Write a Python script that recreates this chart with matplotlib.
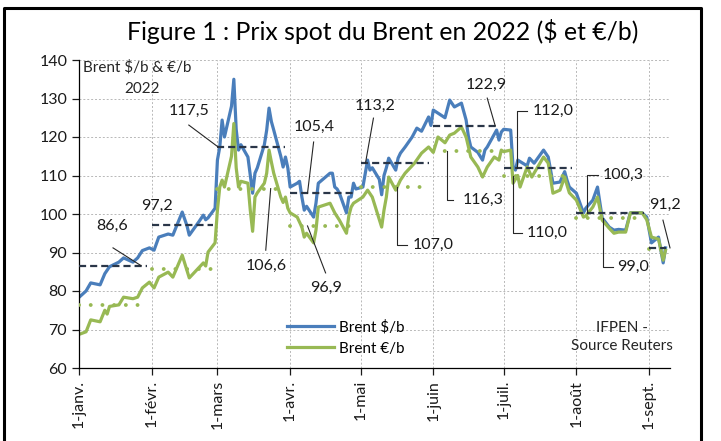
#!/usr/bin/env python
"""Brent spot price in 2022, in dollars and euros per barrel."""

import datetime as dt
import matplotlib.pyplot as plt
import matplotlib.dates as mdates
import matplotlib.lines as mlines


# Data
# ----

# brent in $/b (dates as month-day in 2022, first point end of 2021)
usd_dates = [
    '2021-12-31', '01-04', '01-06', '01-10', '01-12', '01-14', '01-18',
    '01-20', '01-24', '01-26', '01-28', '01-31', '02-02', '02-04', '02-08',
    '02-10', '02-14', '02-16', '02-17', '02-21', '02-23', '02-24', '02-25',
    '02-28', '03-01', '03-02', '03-03', '03-04', '03-07', '03-08', '03-09',
    '03-10', '03-11', '03-14', '03-15', '03-16', '03-17', '03-18', '03-21',
    '03-22', '03-23', '03-24', '03-25', '03-28', '03-29', '03-30', '03-31',
    '04-01', '04-04', '04-05', '04-06', '04-07', '04-08', '04-11', '04-12',
    '04-13', '04-18', '04-19', '04-20', '04-21', '04-22', '04-25', '04-26',
    '04-27', '04-28', '04-29', '05-02', '05-04', '05-05', '05-06', '05-09',
    '05-10', '05-11', '05-12', '05-13', '05-16', '05-17', '05-18', '05-20',
    '05-23', '05-25', '05-27', '05-30', '05-31', '06-01', '06-03', '06-06',
    '06-08', '06-10', '06-13', '06-15', '06-16', '06-17', '06-20', '06-22',
    '06-23', '06-24', '06-28', '06-29', '06-30', '07-01', '07-04', '07-05',
    '07-06', '07-07', '07-11', '07-12', '07-14', '07-18', '07-20', '07-22',
    '07-25', '07-27', '07-28', '07-29', '08-01', '08-04', '08-05', '08-08',
    '08-10', '08-12', '08-15', '08-17', '08-19', '08-22', '08-24', '08-26',
    '08-29', '08-31', '09-02', '09-05', '09-07', '09-08']
usd_values = [
    77.8, 80.0, 82.1, 81.6, 84.5, 86.3, 87.5,
    88.6, 87.5, 88.6, 90.5, 91.2, 90.6, 94.0, 94.8,
    94.5, 100.5, 97.0, 94.5, 97.9, 99.7, 98.5, 99.0,
    101.5, 114.0, 117.4, 124.4, 120.0, 128.0, 135.0, 122.0,
    116.6, 118.0, 114.8, 110.0, 105.4, 110.6, 112.0, 118.0,
    121.8, 127.5, 124.0, 121.8, 115.0, 112.2, 114.8, 112.0,
    107.0, 108.0, 108.5, 104.4, 101.0, 102.0, 99.2, 102.8,
    108.0, 110.6, 110.6, 107.0, 106.5, 105.4, 100.3, 104.4,
    104.4, 108.0, 106.5, 107.0, 114.0, 111.4, 112.0, 109.0,
    105.0, 110.0, 112.0, 114.5, 111.4, 114.5, 115.8, 117.4,
    120.0, 122.3, 121.5, 125.2, 123.0, 127.0, 126.2, 125.0,
    129.6, 127.8, 128.8, 124.4, 120.0, 117.4, 116.0, 114.0,
    116.6, 117.4, 121.8, 119.2, 121.3, 122.0, 121.8, 112.2,
    111.4, 114.0, 112.5, 114.5, 113.2, 116.6, 114.8, 108.0,
    108.3, 111.0, 108.8, 107.0, 105.4, 100.3, 101.5, 103.6,
    107.0, 99.0, 96.6, 95.8, 96.0, 95.8, 100.3, 100.3,
    100.3, 99.2, 92.5, 94.0, 87.3, 91.2]

# brent in €/b
eur_dates = [
    '2021-12-31', '01-04', '01-06', '01-10', '01-12', '01-13', '01-14',
    '01-18', '01-20', '01-24', '01-26', '01-28', '01-31', '02-02', '02-04',
    '02-08', '02-10', '02-14', '02-17', '02-21', '02-23', '02-24', '02-25',
    '02-28', '03-01', '03-02', '03-03', '03-04', '03-07', '03-08', '03-09',
    '03-10', '03-11', '03-14', '03-15', '03-16', '03-17', '03-18', '03-21',
    '03-22', '03-23', '03-24', '03-25', '03-28', '03-29', '03-30', '03-31',
    '04-01', '04-04', '04-06', '04-07', '04-08', '04-11', '04-12', '04-13',
    '04-18', '04-20', '04-22', '04-25', '04-26', '04-27', '04-28', '05-02',
    '05-04', '05-06', '05-10', '05-11', '05-12', '05-13', '05-16', '05-18',
    '05-20', '05-24', '05-27', '05-30', '06-01', '06-03', '06-06', '06-08',
    '06-10', '06-13', '06-15', '06-17', '06-20', '06-22', '06-24', '06-27',
    '06-29', '06-30', '07-01', '07-04', '07-05', '07-07', '07-08', '07-11',
    '07-13', '07-18', '07-20', '07-22', '07-25', '07-27', '07-28', '07-29',
    '08-01', '08-04', '08-05', '08-08', '08-10', '08-12', '08-15', '08-17',
    '08-19', '08-22', '08-24', '08-26', '08-29', '08-31', '09-02', '09-05',
    '09-07', '09-08']
eur_values = [
    68.5, 69.4, 72.5, 72.0, 75.0, 74.0, 76.0,
    76.4, 78.4, 78.0, 78.4, 80.8, 82.3, 80.8, 83.6,
    84.9, 83.6, 89.3, 83.4, 86.0, 87.3, 86.5, 90.1,
    92.5, 101.0, 107.0, 108.8, 107.0, 115.0, 123.5, 112.0,
    107.0, 108.5, 108.0, 101.0, 95.5, 104.4, 105.5, 108.0,
    110.6, 116.6, 113.5, 110.6, 104.4, 103.0, 104.4, 101.5,
    100.3, 99.2, 96.6, 94.0, 95.0, 92.5, 95.8, 101.8,
    102.8, 100.3, 98.4, 95.0, 99.5, 101.8, 102.8, 104.4,
    106.2, 104.4, 96.6, 101.0, 104.4, 109.6, 106.2, 108.8,
    110.6, 113.2, 115.8, 117.4, 116.0, 120.0, 118.5, 120.5,
    121.0, 122.6, 120.0, 114.8, 112.2, 109.6, 112.2, 114.8,
    114.0, 116.6, 116.2, 116.6, 108.0, 110.0, 107.0, 112.2,
    109.6, 114.8, 113.2, 105.4, 106.2, 109.6, 107.5, 105.5,
    103.6, 99.2, 99.5, 101.8, 104.4, 98.4, 96.3, 95.0,
    95.3, 95.3, 100.3, 100.3, 100.3, 98.5, 94.0, 93.5,
    88.0, 90.6]

# monthly averages
months = [1, 2, 3, 4, 5, 6, 7, 8, 9]
usd_avg = [86.6, 97.2, 117.5, 105.4, 113.2, 122.9, 112.0, 100.3, 91.2]
eur_avg = [76.4, 85.7, 106.6, 96.9, 107.0, 116.3, 110.0, 99.0, 91.0]

# tick labels
month_labels = ['1-janv.', '1-févr.', '1-mars', '1-avr.', '1-mai',
                '1-juin', '1-juil.', '1-août', '1-sept.']


# Helpers
# -------

BLUE = '#4A7EBB'
GREEN = '#98B954'
DARK = '#2A3648'
FONT = ['Lato', 'DejaVu Sans']


def to_dates(strings):
    """Convert month-day strings to datetimes in 2022."""
    out = []
    for s in strings:
        if len(s) == 5:
            s = '2022-' + s
        out.append(dt.datetime.strptime(s, '%Y-%m-%d'))
    return out


def day(d):
    """Datetime from a (fractional) day offset since Jan 1st."""
    return dt.datetime(2022, 1, 1) + dt.timedelta(days=d)


def leader(ax, points):
    """Draw a thin annotation leader through (day, value) points."""
    ax.plot([day(d) for d, v in points], [v for d, v in points],
            color='0.15', lw=0.8, clip_on=False, zorder=4)


# Main visual
# -----------

def draw():
    """Plot complete figure."""

    plt.rcParams['font.family'] = FONT
    fig = plt.figure(figsize=(7.21, 4.41), dpi=100)
    ax = fig.add_axes([79/721, 1-368/441, (670-79)/721, (368-60)/441])

    # figure frame
    fig.add_artist(mlines.Line2D([4/721, 4/721, 701/721, 701/721],
                                 [0, 1-8/441, 1-8/441, 0],
                                 color='k', lw=2.2,
                                 transform=fig.transFigure))

    # title
    fig.text(383/721, 1-31/441,
             'Figure 1 : Prix spot du Brent en 2022 ($ et €/b)',
             ha='center', va='center', fontsize=17.8)

    # price series
    ax.plot(to_dates(usd_dates), usd_values, color=BLUE, lw=2.3,
            label='Brent $/b', zorder=2)
    ax.plot(to_dates(eur_dates), eur_values, color=GREEN, lw=2.3,
            label='Brent €/b', zorder=2)

    # monthly averages
    last = to_dates(usd_dates)[-1]
    for m, ua, ea in zip(months, usd_avg, eur_avg):
        start = dt.datetime(2022, m, 1)
        end = min(dt.datetime(2022, m+1, 1) - dt.timedelta(days=2), last)
        ax.plot([start, end], [ea, ea], color=GREEN, lw=2.8,
                dashes=(0.01, 3.0), dash_capstyle='round', zorder=3)
        ax.plot([start, end], [ua, ua], color=DARK, lw=1.6,
                dashes=(3.2, 1.8), zorder=3)

    # annotations: label, text position, leader path, alignment
    def fmt(v):
        return '{:.1f}'.format(v).replace('.', ',')
    notes = [
        (usd_avg[0], (14.0, 96.9), [(14.5, 91.2), (26.4, 86.6)], 'center'),
        (usd_avg[1], (33.2, 102.1), [], 'center'),
        (usd_avg[2], (46.8, 126.8), [(46.8, 123.1), (59.1, 117.5)], 'center'),
        (eur_avg[2], (79.6, 86.5), [(79.6, 90.6), (81.7, 106.6)], 'center'),
        (usd_avg[3], (100.4, 122.6), [(100.0, 118.7), (97.4, 105.4)],
         'center'),
        (eur_avg[3], (105.1, 80.8), [(105.1, 84.7), (97.4, 96.9)], 'center'),
        (usd_avg[4], (126.4, 128.1), [(125.5, 124.9), (122.1, 113.2)],
         'center'),
        (eur_avg[4], (142.1, 92.0), [(135.7, 107.0), (135.7, 92.0),
                                     (140.0, 92.0)], 'left'),
        (usd_avg[5], (173.6, 133.5), [(174.0, 130.1), (177.4, 122.9)],
         'center'),
        (eur_avg[5], (163.4, 103.6), [(157.0, 116.3), (157.0, 103.6),
                                      (159.6, 103.6)], 'left'),
        (usd_avg[6], (193.2, 126.8), [(186.8, 112.0), (186.8, 126.8),
                                      (191.0, 126.8)], 'left'),
        (eur_avg[6], (191.0, 95.0), [(185.1, 110.0), (185.1, 95.0),
                                     (189.0, 95.0)], 'left'),
        (usd_avg[7], (223.0, 110.1), [(216.6, 100.3), (216.6, 110.1),
                                      (221.3, 110.1)], 'left'),
        (eur_avg[7], (229.4, 86.2), [(223.4, 99.0), (223.4, 86.2),
                                     (227.7, 86.2)], 'left'),
        (usd_avg[8], (249.8, 102.3), [(248.9, 98.4), (251.9, 91.2)],
         'center'),
    ]
    for val, (td, tv), path, ha in notes:
        ax.text(day(td), tv, fmt(val), ha=ha, va='center', fontsize=11.5,
                color='0.1', zorder=5)
        if path:
            leader(ax, path)

    # inner texts
    ax.text(0.007, 0.977, 'Brent $/b & €/b', transform=ax.transAxes,
            ha='left', va='center', fontsize=11, color='0.15')
    ax.text(0.107, 0.906, '2022', transform=ax.transAxes,
            ha='center', va='center', fontsize=11, color='0.15')
    ax.text(0.919, 0.10, 'IFPEN -\nSource Reuters', transform=ax.transAxes,
            ha='center', va='center', fontsize=11, color='0.15',
            linespacing=1.35)
    ax.legend(loc='upper left', bbox_to_anchor=(0.352, 0.155),
              frameon=False, fontsize=11, handlelength=3.1,
              handletextpad=0.3, labelspacing=0.45, borderpad=0,
              borderaxespad=0)

    # axes properties
    ax.set_ylim(60, 140)
    ax.set_yticks(range(60, 141, 10))
    ax.set_xlim(dt.datetime(2022, 1, 1), day(251.9))
    ax.set_xticks([dt.datetime(2022, m, 1) for m in months])
    ax.xaxis.set_major_formatter(mdates.DateFormatter('%d'))
    ax.set_xticklabels(month_labels, rotation=90)
    ax.tick_params(labelsize=11.5, length=5, width=0.9, colors='0.1')
    ax.grid(color='0.72', ls=(0, (2, 2)), lw=0.7)
    ax.set_axisbelow(True)
    for side in ['top', 'right']:
        ax.spines[side].set_visible(False)
    for side in ['left', 'bottom']:
        ax.spines[side].set_linewidth(0.9)

    return fig


def main():
    """Main program for command-line execution."""
    fig = draw()
    fig.savefig('out.png', dpi=100)


if __name__ == '__main__':
    main()
